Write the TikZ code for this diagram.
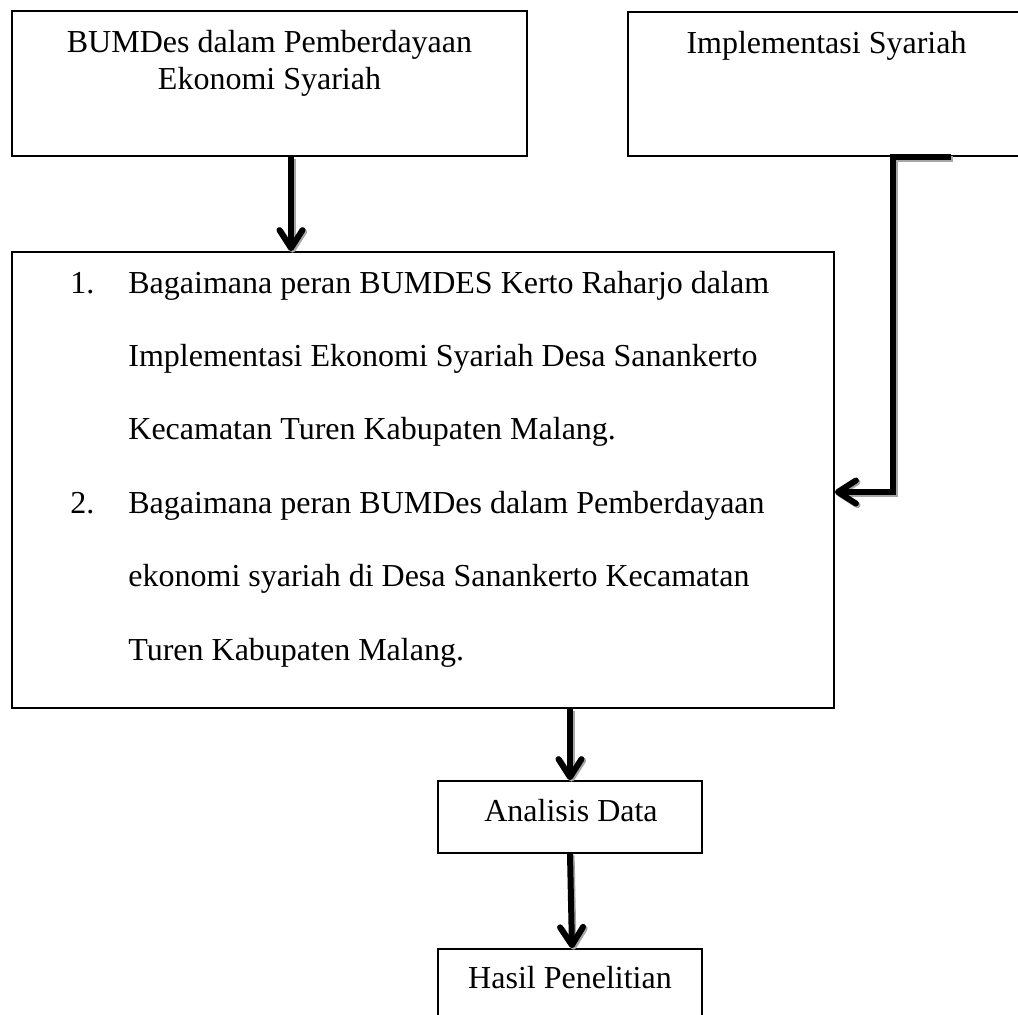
\documentclass[tikz,border=0pt]{standalone}
\usepackage{fontspec}
\setmainfont{Liberation Serif}
\usetikzlibrary{arrows.meta,calc}
\begin{document}
\begin{tikzpicture}[x=0.5pt,y=-0.5pt,
  box/.style={draw=black, line width=0.9pt, rectangle, inner sep=0pt},
  txt/.style={inner sep=0pt, font=\fontsize{16}{18.5}\selectfont},
  conn/.style={line width=3pt, line cap=butt, line join=miter,
    -{Straight Barb[length=9pt,width=11.5pt,round]},
    preaction={draw=black!35, line width=3pt,
      -{Straight Barb[length=9pt,width=11.5pt,round]},
      transform canvas={shift={(0.8pt,-0.8pt)}}}}
]
\useasboundingbox (0,0) rectangle (1018,1014);
\fill[white] (0,0) rectangle (1018,1014);

% boxes
\node[box, minimum width=257.5pt, minimum height=72.5pt] (box1) at (269.5,83.5) {};
\node[box, minimum width=198.5pt, minimum height=72pt] (box2) at (826.5,84) {};
\node[box, minimum width=411pt, minimum height=228pt] (big) at (423,480) {};
\node[box, minimum width=132pt, minimum height=36pt] (ana) at (570,817) {};
\node[box, minimum width=132pt, minimum height=40.5pt] (hasil) at (570,989.5) {};

% texts
\node[txt, anchor=base] (t1a) at (269.5,52) {BUMDes dalam Pemberdayaan};
\node[txt, anchor=base] (t1b) at (269.5,89) {Ekonomi Syariah};
\node[txt, anchor=base] (t2) at (826.5,53) {Implementasi Syariah};
\node[txt, anchor=base west] (t3) at (70,293) {\fontsize{16}{36.7}\selectfont
  \begin{tabular}[t]{@{}p{29pt}@{}l@{}}
  1. & Bagaimana peran BUMDES Kerto Raharjo dalam\\
     & Implementasi Ekonomi Syariah Desa Sanankerto\\
     & Kecamatan Turen Kabupaten Malang.\\
  2. & Bagaimana peran BUMDes dalam Pemberdayaan\\
     & ekonomi syariah di Desa Sanankerto Kecamatan\\
     & Turen Kabupaten Malang.
  \end{tabular}};
\node[txt, anchor=base] (t4) at (571,821) {Analisis Data};
\node[txt, anchor=base] (t5) at (570,988) {Hasil Penelitian};

% connectors
\coordinate (a1) at (291,0);
\coordinate (e) at (951,0);
\coordinate (k) at (893,492);
\coordinate (a2) at (570,0);
\coordinate (a3) at (572,0);
\draw[conn] (box1.south -| a1) -- (big.north -| a1);
\draw[conn] (box2.south -| e) -| (k) -- (big.east |- k);
\draw[conn] (big.south -| a2) -- (ana.north -| a2);
\draw[conn] (ana.south -| a2) -- (hasil.north -| a3);
\end{tikzpicture}
\end{document}
